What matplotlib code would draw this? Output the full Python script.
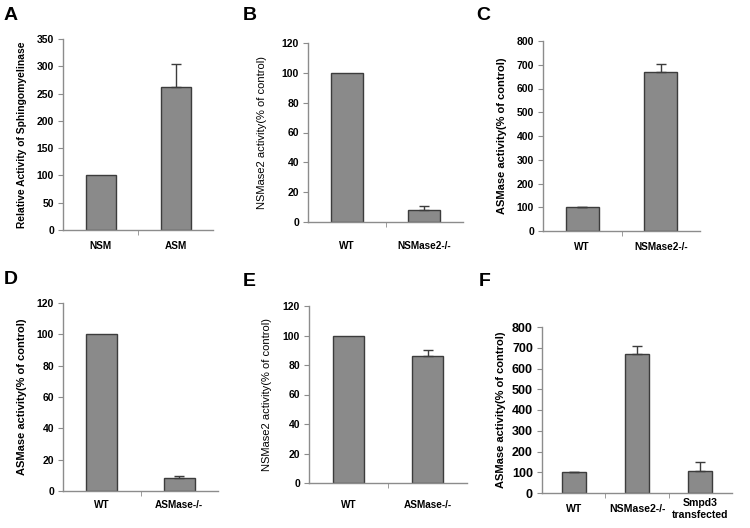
import matplotlib
matplotlib.use("Agg")
import matplotlib.pyplot as plt
from matplotlib.ticker import FixedLocator

plt.rcParams["font.family"] = ["Liberation Sans", "DejaVu Sans"]

# panel data
a_cats = ["NSM", "ASM"]
a_vals = [100, 262]
a_err = [0, 43]

b_cats = ["WT", "NSMase2-/-"]
b_vals = [100, 8]
b_err = [0, 3]

c_cats = ["WT", "NSMase2-/-"]
c_vals = [100, 668]
c_err = [3, 35]

d_cats = ["WT", "ASMase-/-"]
d_vals = [100, 8]
d_err = [0, 1.5]

e_cats = ["WT", "ASMase-/-"]
e_vals = [100, 86]
e_err = [0, 4]

f_cats = ["WT", "NSMase2-/-", "Smpd3\ntransfected"]
f_vals = [100, 670, 108]
f_err = [2, 38, 42]

W, H = 750, 528
BAR = "#8a8a8a"
EDGE = "#3c3c3c"
AXC = "#8c8c8c"


def panel(fig, box, cats, vals, errs, ymax, ystep, ylabel, letter, letter_xy,
          width=0.4, xlab_px=16, label_x=27, label_bold=True, label_size=8,
          tick_size=7.5, xlab_size=7.2):
    l, r, t, b = box
    ax = fig.add_axes([l / W, 1 - b / H, (r - l) / W, (b - t) / H])
    x = list(range(len(cats)))
    ax.bar(x, vals, width=width, color=BAR, edgecolor=EDGE, linewidth=1.0, zorder=2)
    # only bars with a visible error get a whisker
    ex = [xi for xi, e in zip(x, errs) if e > 0]
    ev = [v for v, e in zip(vals, errs) if e > 0]
    ee = [e for e in errs if e > 0]
    if ex:
        ax.errorbar(ex, ev, yerr=[[0] * len(ee), ee], fmt="none", ecolor=EDGE,
                    elinewidth=1.0, capsize=3.5, capthick=1.0, zorder=3)
    ax.set_xlim(-0.5, len(cats) - 0.5)
    ax.set_ylim(0, ymax)
    ax.set_yticks(range(0, ymax + 1, ystep))
    for s in ["top", "right"]:
        ax.spines[s].set_visible(False)
    for s in ["left", "bottom"]:
        ax.spines[s].set_color(AXC)
        ax.spines[s].set_linewidth(1.0)
    ax.tick_params(axis="y", direction="out", length=3.5, color=AXC, labelsize=tick_size, pad=3)
    for lab in ax.get_yticklabels():
        lab.set_fontweight("bold")
    ax.set_xticks(x)
    ax.set_xticklabels(cats, fontsize=xlab_size, fontweight="bold", va="center", linespacing=1.3)
    ax.tick_params(axis="x", which="major", length=0, pad=xlab_px * 0.72)
    ax.xaxis.set_minor_locator(FixedLocator([i + 0.5 for i in range(len(cats) - 1)]))
    ax.tick_params(axis="x", which="minor", length=3.5, color=AXC, direction="out")
    ax.set_ylabel(ylabel, fontsize=label_size, fontweight="bold" if label_bold else "normal")
    ax.yaxis.set_label_coords((label_x - l) / (r - l), 0.5)
    fig.text(letter_xy[0] / W, 1 - letter_xy[1] / H, letter, fontsize=14,
             fontweight="bold", va="center", ha="left")
    return ax


fig = plt.figure(figsize=(7.5, 5.28), dpi=100)

panel(fig, (63, 213, 39, 230), a_cats, a_vals, a_err, 350, 50,
      "Relative Activity of Sphingomyelinase", "A", (4, 16),
      xlab_px=16, label_x=27, label_size=7.4)
panel(fig, (308, 463, 43, 222), b_cats, b_vals, b_err, 120, 20,
      "NSMase2 activity(% of control)", "B", (243, 16), width=0.41,
      xlab_px=24, label_x=267, label_bold=False)
panel(fig, (543, 700, 41, 231), c_cats, c_vals, c_err, 800, 100,
      "ASMase activity(% of control)", "C", (476, 16), width=0.42,
      xlab_px=16, label_x=507)
panel(fig, (63, 218, 303, 491), d_cats, d_vals, d_err, 120, 20,
      "ASMase activity(% of control)", "D", (4, 279), width=0.4,
      xlab_px=14, label_x=27)
panel(fig, (309, 467, 306, 483), e_cats, e_vals, e_err, 120, 20,
      "NSMase2 activity(% of control)", "E", (243, 281), width=0.4,
      xlab_px=22, label_x=272, label_bold=False)
panel(fig, (542, 732, 327, 493), f_cats, f_vals, f_err, 800, 100,
      "ASMase activity(% of control)", "F", (479, 282), width=0.38,
      xlab_px=16, label_x=506, tick_size=9, xlab_size=7.6)

fig.savefig("out.png", dpi=100)
